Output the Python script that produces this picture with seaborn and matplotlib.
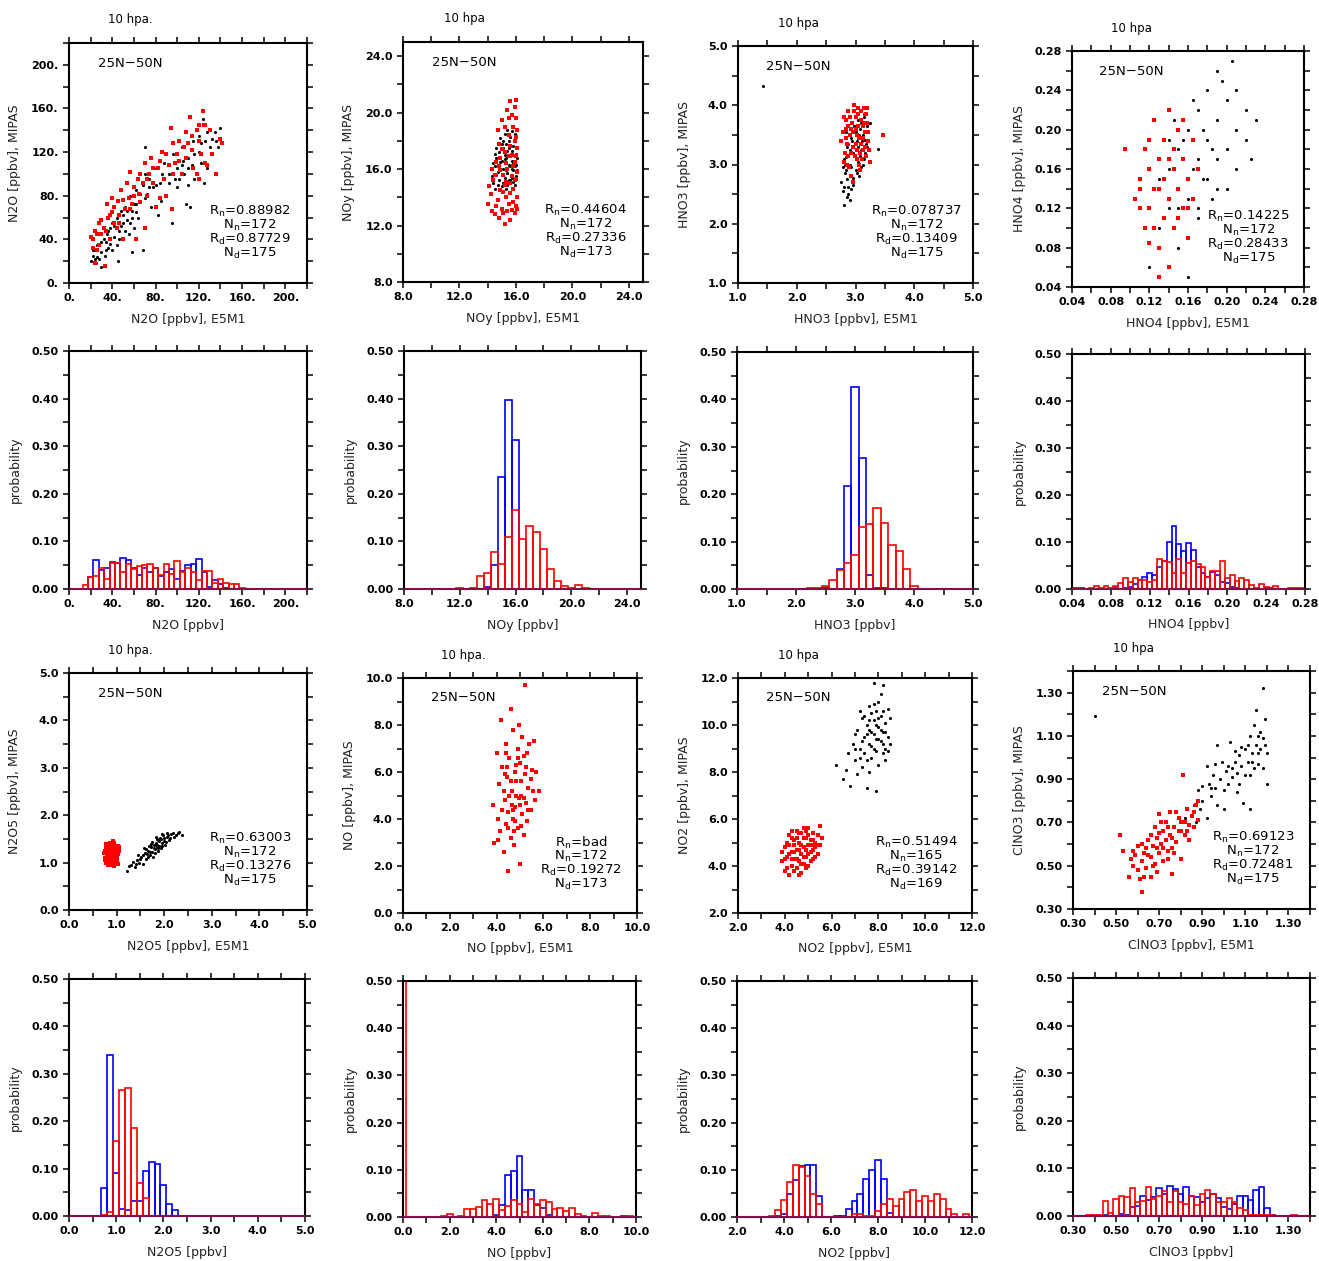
import numpy as np
import pandas as pd
import matplotlib
matplotlib.use("Agg")
import matplotlib.pyplot as plt
import seaborn as sns
from matplotlib.ticker import FuncFormatter

sns.set_theme(style="ticks")
plt.rcParams.update({
    'font.family': ['DejaVu Sans'],
    'axes.linewidth': 1.5,
    'axes.edgecolor': 'black',
    'xtick.color': 'black',
    'ytick.color': 'black',
    'text.color': 'black',
    'axes.labelcolor': '#222222',
})

# ---------------- scatter data (E5M1, MIPAS) ----------------
N2O_BLACK = [(20,20),(22,25),(24,30),(25,18),(26,35),(28,22),(30,15),(30,28),(32,40),(33,25),(35,45),(36,32),
             (38,50),(40,30),(40,55),(42,42),(44,60),(45,20),(46,48),(48,52),(50,62),(50,40),(52,70),(54,58),
             (55,45),(56,80),(58,66),(58,28),(60,72),(60,50),(62,85),(64,60),(65,75),(68,30),(68,90),(70,100),
             (70,125),(72,82),(74,95),(76,70),(78,88),(80,105),(82,62),(84,92),(85,75),(88,110),(90,80),(92,92),
             (94,68),(95,55),(96,118),(98,110),(100,105),(100,88),(102,95),(104,125),(105,112),(106,100),(108,72),
             (110,90),(110,115),(112,70),(114,108),(115,130),(116,95),(118,100),(120,120),(120,135),(122,110),
             (124,150),(125,92),(126,130),(128,105),(130,125),(135,138),(138,125),(140,142),(136,130),(24,22),
             (34,38),(44,35),(52,48),(62,65),(48,66),(38,36),(56,55),
             (22,30),(26,24),(30,38),(34,30),(36,48),(42,52),(46,40),(50,55),(54,66),(58,60),(62,72),(66,82),
             (70,78),(74,88),(80,90),(86,100),(92,100),(98,95),(104,108),(110,105),(116,118),(122,128),(128,138),
             (132,132)]
N2O_RED = [(20,42),(22,40),(24,18),(24,48),(26,30),(28,55),(28,35),(30,45),(32,50),(33,16),(35,72),(36,60),
           (38,40),(40,78),(40,65),(42,55),(44,50),(45,75),(46,62),(48,85),(50,40),(52,68),(54,92),(55,78),
           (56,102),(58,72),(60,88),(62,40),(64,95),(65,82),(66,74),(68,92),(70,50),(70,110),(72,80),(74,100),
           (76,115),(78,92),(80,70),(82,105),(84,78),(86,120),(88,95),(90,80),(92,108),(94,142),(95,68),(96,100),
           (98,110),(100,118),(102,130),(104,100),(106,125),(108,115),(110,128),(112,152),(114,135),(115,105),
           (118,140),(118,100),(120,145),(120,95),(122,118),(124,158),(125,145),(126,110),(128,108),(132,118),
           (136,100),(140,132),(141,128),
           (22,32),(26,45),(30,58),(34,48),(38,62),(42,70),(46,55),(50,76),(56,68),(60,80),(66,100),(72,95),
           (78,105),(84,112),(90,118),(96,128),(102,112),(108,138),(114,122),(120,130),(126,145),(130,140)]

NOY_BLACK = [(14.3,15.5),(14.4,15.0),(14.5,16.2),(14.5,14.6),(14.6,16.8),(14.7,15.8),(14.8,17.2),(14.8,15.2),
             (14.9,16.5),(15.0,14.8),(15.0,17.8),(15.1,16.0),(15.2,15.4),(15.2,18.5),(15.3,16.8),(15.3,14.6),
             (15.4,17.3),(15.4,15.7),(15.5,16.3),(15.5,18.0),(15.6,15.2),(15.6,17.0),(15.7,16.6),(15.7,18.7),
             (15.8,15.9),(15.8,17.6),(15.9,16.2),(15.9,14.9),(16.0,17.1),(16.0,15.5),(15.1,17.5),(14.9,18.2),
             (15.5,14.3),(15.7,15.4),(15.4,16.1),(15.6,16.9),(15.8,16.4),(15.2,16.7),(14.6,15.6),(16.1,16.8),
             (14.4,16.4),(14.6,17.5),(14.7,14.9),(14.8,16.1),(15.0,16.6),(15.0,15.6),(15.1,18.0),(15.2,17.0),
             (15.3,15.9),(15.3,17.8),(15.4,14.9),(15.5,17.5),(15.6,16.2),(15.6,18.3),(15.7,17.3),(15.8,15.1),
             (15.9,17.0),(15.9,18.5),(16.0,16.3),(16.1,15.9),(15.5,15.2),(15.7,16.0),(15.4,18.8),(14.5,17.1),
             (15.1,15.0)]
NOY_RED = [(14.0,13.5),(14.2,14.2),(14.3,13.0),(14.4,15.2),(14.5,12.8),(14.6,16.5),(14.7,13.8),(14.8,17.8),
           (14.9,14.5),(15.0,13.2),(15.0,19.5),(15.1,15.6),(15.2,12.1),(15.2,17.2),(15.3,14.0),(15.4,20.2),
           (15.4,16.0),(15.5,13.5),(15.5,18.4),(15.6,15.0),(15.6,20.8),(15.7,17.0),(15.7,13.1),(15.8,19.0),
           (15.8,14.6),(15.9,16.5),(15.9,18.0),(16.0,15.3),(16.0,20.9),(16.0,13.4),(16.1,17.5),(16.1,14.0),
           (16.0,19.6),(15.9,12.9),(15.3,16.4),(14.9,16.8),(15.6,17.6),(16.1,15.8),(15.8,16.2),(15.1,14.4),
           (16.0,18.3),(15.7,15.5),
           (14.1,14.8),(14.3,16.0),(14.5,15.6),(14.6,13.4),(14.7,18.8),(14.8,12.5),(14.9,15.9),(15.0,17.4),
           (15.1,12.9),(15.2,19.0),(15.3,15.1),(15.4,13.0),(15.5,16.9),(15.6,14.3),(15.7,19.8),(15.8,13.7),
           (15.9,15.2),(16.0,16.9),(16.1,18.8),(16.1,13.2),(15.9,20.4),(15.5,19.6),(15.2,14.9),(14.8,16.2),
           (15.6,12.4)]

HNO3_BLACK = [(2.78,2.55),(2.80,2.32),(2.85,2.45),(2.76,2.70),(2.82,2.85),(2.88,2.62),(2.90,3.00),(2.80,3.10),
              (2.95,2.78),(2.86,3.30),(2.92,3.45),(3.00,2.90),(2.98,3.15),(3.02,3.40),(2.84,3.55),(3.05,3.05),
              (3.08,3.60),(3.10,3.25),(2.94,3.70),(3.12,3.50),(3.15,3.85),(3.04,3.75),(3.18,3.35),(3.20,3.65),
              (2.96,3.20),(3.06,2.80),(2.90,2.40),(3.00,3.55),(3.14,3.10),(3.25,3.70),(3.39,3.27),(2.82,3.00),
              (3.10,2.95),(2.88,3.35),(3.02,3.65),(1.42,4.33),(2.93,2.58),(3.16,3.42),
              (2.78,2.95),(2.80,2.62),(2.84,3.12),(2.86,2.75),(2.90,3.25),(2.92,2.95),(2.94,3.40),(2.96,2.65),
              (2.98,3.55),(3.00,3.10),(3.02,2.85),(3.04,3.30),(3.06,3.50),(3.08,3.15),(3.10,3.70),(3.12,3.00),
              (3.14,3.80),(3.16,3.20),(3.18,3.55),(3.20,3.30),(2.87,2.50),(2.83,2.90),(3.05,3.85),(2.97,3.65),
              (3.11,3.40)]
HNO3_RED = [(2.76,3.40),(2.80,3.80),(2.82,3.20),(2.84,3.60),(2.86,3.00),(2.88,3.90),(2.90,3.50),(2.92,2.80),
            (2.94,3.70),(2.96,3.30),(2.98,4.00),(3.00,3.60),(3.02,3.10),(3.04,3.85),(3.06,3.45),(3.08,2.90),
            (3.10,3.75),(3.12,3.25),(3.14,3.95),(3.16,3.55),(3.18,3.15),(3.20,3.70),(3.22,3.40),(3.24,3.05),
            (3.47,3.50),(2.88,3.15),(3.00,3.35),(3.12,3.65),(2.95,2.70),(3.05,3.95),(3.18,3.85),(2.84,3.45),
            (3.02,3.50),(3.09,3.35),
            (2.78,3.55),(2.81,3.05),(2.83,3.75),(2.85,3.35),(2.87,3.65),(2.89,2.95),(2.91,3.80),(2.93,3.20),
            (2.95,3.55),(2.97,3.90),(2.99,3.15),(3.01,3.80),(3.03,3.25),(3.05,3.65),(3.07,3.20),(3.09,3.90),
            (3.11,3.10),(3.13,3.45),(3.15,3.70),(3.17,3.30),(3.19,3.95),(3.21,3.55),(3.23,3.25),(2.92,3.60),
            (3.06,3.00)]

HNO4_BLACK = [(0.12,0.06),(0.13,0.10),(0.14,0.12),(0.14,0.16),(0.15,0.14),(0.15,0.18),(0.16,0.13),(0.16,0.20),
              (0.16,0.05),(0.17,0.17),(0.17,0.22),(0.17,0.12),(0.18,0.19),(0.18,0.15),(0.18,0.24),(0.19,0.21),
              (0.19,0.17),(0.19,0.26),(0.20,0.18),(0.20,0.23),(0.20,0.14),(0.21,0.20),(0.21,0.16),(0.22,0.22),
              (0.22,0.19),(0.23,0.21),(0.155,0.19),(0.165,0.16),(0.175,0.20),(0.185,0.13),(0.145,0.21),
              (0.195,0.25),(0.205,0.27),(0.13,0.15),(0.16,0.09),(0.17,0.11),(0.15,0.08),(0.21,0.24),(0.185,0.18),
              (0.175,0.15),(0.165,0.23),(0.14,0.19),(0.225,0.17),(0.19,0.14),(0.15,0.12)]
HNO4_RED = [(0.105,0.13),(0.11,0.15),(0.115,0.18),(0.115,0.10),(0.12,0.12),(0.12,0.16),(0.125,0.14),
            (0.125,0.21),(0.13,0.08),(0.13,0.17),(0.135,0.11),(0.135,0.19),(0.14,0.13),(0.14,0.22),(0.14,0.06),
            (0.145,0.16),(0.145,0.10),(0.15,0.14),(0.15,0.20),(0.155,0.12),(0.155,0.17),(0.16,0.15),(0.16,0.09),
            (0.165,0.19),(0.165,0.13),(0.17,0.16),(0.13,0.05),(0.12,0.19),(0.11,0.12),(0.125,0.10),(0.135,0.15),
            (0.145,0.18),(0.15,0.11),(0.155,0.21),(0.14,0.17),(0.13,0.14),(0.16,0.12),(0.12,0.085),(0.095,0.18),
            (0.11,0.14)]

N2O5_BLACK = [(1.22,0.82),(1.30,0.95),(1.38,0.90),(1.42,1.05),(1.48,1.00),(1.52,1.12),(1.55,0.98),(1.60,1.20),
              (1.62,1.08),(1.66,1.25),(1.70,1.15),(1.72,1.32),(1.75,1.22),(1.78,1.38),(1.80,1.28),(1.82,1.42),
              (1.85,1.33),(1.88,1.48),(1.90,1.36),(1.92,1.52),(1.95,1.42),(1.98,1.58),(2.00,1.45),(2.05,1.55),
              (2.10,1.48),(2.15,1.60),(2.20,1.55),(2.28,1.62),(2.38,1.58),(1.68,1.35),(1.76,1.12),(1.86,1.24),
              (1.58,1.30),(1.94,1.30),(2.02,1.38),(1.45,1.15),(1.84,1.50),(1.74,1.44),(1.64,1.18),(1.35,1.02),
              (1.25,0.92),(1.40,0.98),(1.50,1.08),(1.56,1.15),(1.62,1.28),(1.66,1.12),(1.70,1.22),(1.72,1.40),
              (1.78,1.30),(1.80,1.20),(1.84,1.38),(1.88,1.30),(1.90,1.46),(1.94,1.50),(1.96,1.36),(2.00,1.52),
              (2.04,1.44),(2.08,1.58),(2.12,1.52),(2.18,1.62),(2.24,1.58),(2.32,1.65),(1.82,1.55),(1.96,1.60),
              (2.06,1.62)]
N2O5_RED = [(0.75,1.10),(0.76,1.25),(0.78,1.00),(0.78,1.35),(0.80,1.15),(0.82,1.40),(0.82,0.95),(0.84,1.20),
            (0.85,1.05),(0.86,1.30),(0.88,1.12),(0.88,1.38),(0.90,0.98),(0.90,1.22),(0.92,1.32),(0.93,1.08),
            (0.95,1.18),(0.95,1.42),(0.97,1.02),(0.98,1.28),(1.00,1.14),(1.02,1.36),(1.02,0.96),(1.05,1.24),
            (0.80,1.28),(0.86,1.00),(0.92,1.45),(0.84,1.10),(0.96,1.25),(0.89,1.17),(0.79,1.18),(1.00,1.30),
            (0.87,1.42),(0.94,0.92),(0.83,1.33),
            (0.74,1.20),(0.76,1.05),(0.77,1.40),(0.79,1.10),(0.81,1.22),(0.81,1.02),(0.83,1.28),(0.85,1.15),
            (0.85,1.38),(0.87,1.05),(0.87,1.25),(0.89,1.32),(0.91,1.12),(0.91,1.40),(0.93,1.22),(0.94,1.02),
            (0.96,1.35),(0.97,1.12),(0.99,1.22),(1.01,1.05),(1.03,1.18),(1.04,1.32),(0.78,1.30),(0.88,0.95),
            (0.95,1.28)]

NO_BLACK = []
NO_RED = [(3.85,4.6),(3.90,3.0),(4.00,6.8),(4.05,4.0),(4.10,5.5),(4.15,3.5),(4.20,8.2),(4.25,6.2),(4.30,2.6),
          (4.35,4.8),(4.40,7.2),(4.40,3.8),(4.45,5.8),(4.50,1.8),(4.50,4.3),(4.55,6.6),(4.60,8.7),(4.60,3.2),
          (4.65,5.2),(4.70,4.0),(4.70,7.8),(4.75,2.9),(4.80,6.0),(4.80,4.5),(4.85,5.6),(4.90,3.6),(4.90,7.0),
          (4.95,4.9),(5.00,2.1),(5.00,6.4),(5.05,5.0),(5.10,4.2),(5.10,7.5),(5.15,3.3),(5.20,5.9),(5.20,9.7),
          (5.25,4.7),(5.30,6.8),(5.30,3.9),(5.35,5.3),(5.40,7.2),(5.45,4.4),(5.50,6.1),(5.55,5.2),(5.60,7.3),
          (5.65,4.8),(5.70,6.0),(5.80,5.2),(4.55,5.0),(4.75,3.5),(4.85,6.3),(5.05,3.7),(4.35,5.9),(4.65,4.6),
          (4.95,8.0),(4.25,4.4),(5.15,6.7),(4.05,3.1),
          (4.30,5.2),(4.45,6.2),(4.60,5.6),(4.70,4.4),(4.85,5.0),(4.90,6.6),(5.00,4.6),(5.05,5.6),(5.25,6.2),
          (5.35,4.4),(4.50,3.6),(4.80,3.9),(5.15,4.9),(4.40,6.8),(5.45,5.7)]

NO2_BLACK = [(6.2,8.3),(6.5,7.7),(6.7,8.8),(6.8,7.4),(6.9,9.2),(7.0,8.5),(7.1,9.8),(7.1,7.9),(7.2,9.0),(7.3,10.3),
             (7.3,8.2),(7.4,9.5),(7.4,8.8),(7.5,10.0),(7.5,7.3),(7.6,9.2),(7.6,10.8),(7.7,8.6),(7.7,9.7),(7.8,11.8),
             (7.8,10.2),(7.8,9.0),(7.9,9.4),(7.9,10.6),(8.0,8.3),(8.0,9.9),(8.0,11.0),(8.1,9.3),(8.1,10.4),(8.2,8.8),
             (8.2,9.7),(8.2,11.7),(8.3,10.1),(8.3,8.5),(8.4,9.5),(8.4,10.7),(8.5,9.2),(8.5,10.3),(7.2,10.6),(7.6,8.0),
             (7.9,7.2),(8.1,11.3),(7.0,9.6),(6.6,8.1),(8.3,9.0),(7.7,10.5),
             (7.0,9.0),(7.2,8.6),(7.3,9.3),(7.4,10.4),(7.5,8.5),(7.6,9.8),(7.7,9.1),(7.8,9.6),(7.9,8.9),(8.0,10.3),
             (8.0,9.4),(8.1,9.8),(8.2,10.6),(8.3,9.7),(8.4,8.9),(7.8,10.9),(7.5,9.6),(7.9,10.0),(8.2,9.2),(7.6,10.2)]
NO2_RED = [(3.9,4.2),(4.0,4.8),(4.0,3.8),(4.1,5.0),(4.1,4.4),(4.2,3.6),(4.2,5.3),(4.3,4.6),(4.3,4.0),(4.4,5.1),
           (4.4,4.3),(4.5,3.9),(4.5,5.5),(4.5,4.7),(4.6,4.2),(4.6,5.0),(4.7,4.5),(4.7,3.7),(4.7,5.4),(4.8,4.8),
           (4.8,4.1),(4.9,5.2),(4.9,4.4),(5.0,4.9),(5.0,4.0),(5.0,5.6),(5.1,4.6),(5.1,5.1),(5.2,4.3),(5.2,5.4),
           (5.3,4.8),(5.3,5.0),(5.4,4.5),(5.4,5.3),(5.5,4.9),(5.6,5.2),(4.3,5.2),(4.6,3.6),(4.9,3.9),(4.4,4.9),
           (4.8,5.6),(5.2,4.7),(4.2,4.5),(5.5,5.7),
           (3.9,4.6),(4.0,4.3),(4.1,3.9),(4.2,4.9),(4.3,5.5),(4.3,4.3),(4.4,3.8),(4.4,4.6),(4.5,5.2),(4.5,4.3),
           (4.6,4.7),(4.6,5.4),(4.7,4.1),(4.7,4.9),(4.8,4.4),(4.8,5.2),(4.9,4.7),(4.9,5.5),(5.0,4.5),(5.0,5.3),
           (5.1,4.2),(5.1,4.9),(5.2,5.1),(5.3,4.4),(5.4,4.9)]

CLNO3_BLACK = [(0.82,0.72),(0.84,0.62),(0.86,0.78),(0.87,0.70),(0.88,0.85),(0.89,0.76),(0.90,0.80),(0.92,0.96),
               (0.92,0.72),(0.93,0.88),(0.94,0.82),(0.95,0.92),(0.96,0.86),(0.97,1.06),(0.97,0.78),(0.98,0.90),
               (1.00,0.85),(1.00,0.76),(1.01,0.94),(1.02,0.88),(1.03,1.07),(1.04,0.91),(1.05,0.98),(1.06,0.84),
               (1.06,0.93),(1.07,1.01),(1.08,0.96),(1.09,0.79),(1.10,1.04),(1.10,0.92),(1.11,0.98),(1.12,1.10),
               (1.13,1.02),(1.14,0.95),(1.14,1.15),(1.15,1.06),(1.15,1.22),(1.16,0.97),(1.17,1.04),(1.17,1.12),
               (1.18,0.95),(1.18,1.32),(1.19,1.06),(1.19,1.18),(1.20,0.88),(1.20,1.02),(1.12,0.76),(0.40,1.19),
               (0.90,0.87),(0.94,0.86),(0.99,0.98),(1.02,0.96),(1.05,1.03),(1.08,1.05),(1.11,1.06),(1.13,0.98),
               (1.16,1.02),(1.18,1.09),(1.12,0.92),(1.07,0.88),(0.96,0.97),(1.04,0.95),(1.16,1.10)]
CLNO3_RED = [(0.52,0.64),(0.53,0.57),(0.56,0.45),(0.57,0.53),(0.58,0.50),(0.60,0.59),(0.61,0.44),(0.62,0.52),
             (0.62,0.38),(0.63,0.56),(0.64,0.49),(0.65,0.62),(0.66,0.54),(0.66,0.45),(0.67,0.59),(0.68,0.68),
             (0.68,0.51),(0.69,0.63),(0.70,0.56),(0.70,0.74),(0.71,0.60),(0.72,0.66),(0.72,0.52),(0.73,0.70),
             (0.74,0.57),(0.75,0.64),(0.75,0.75),(0.76,0.46),(0.77,0.68),(0.78,0.61),(0.79,0.72),(0.80,0.66),
             (0.80,0.53),(0.81,0.92),(0.82,0.70),(0.83,0.76),(0.84,0.62),(0.85,0.73),(0.86,0.68),(0.87,0.78),
             (0.88,0.71),(0.64,0.58),(0.69,0.47),(0.74,0.53),(0.78,0.75),(0.59,0.55),(0.71,0.70),(0.76,0.58),
             (0.83,0.66),
             (0.58,0.57),(0.60,0.48),(0.62,0.60),(0.63,0.45),(0.65,0.55),(0.66,0.64),(0.67,0.50),(0.69,0.58),
             (0.70,0.65),(0.72,0.58),(0.73,0.62),(0.74,0.68),(0.76,0.63),(0.77,0.56),(0.79,0.66),(0.80,0.70),
             (0.82,0.64),(0.84,0.69),(0.86,0.75),(0.88,0.80)]

# ---------------- histogram data (bin centres, probability) ----------------
N2O_BINS = [15,20,25,30,35,40,45,50,55,60,65,70,75,80,85,90,95,100,105,110,115,120,125,130,135,140,145,150,155,160]
N2O_BLUE = [0,0.025,0.06,0.04,0.045,0.057,0.055,0.066,0.06,0.045,0.03,0.045,0.035,0.045,0.028,0.035,0.043,0.02,
            0.037,0.05,0.052,0.063,0.035,0.005,0.018,0.01,0.002,0,0,0]
N2O_RED_H = [0.008,0.025,0.028,0.045,0.02,0.055,0.055,0.035,0.052,0.043,0.048,0.05,0.052,0.045,0.03,0.052,0.032,
             0.058,0.035,0.045,0.035,0.018,0.038,0.038,0.012,0.022,0.012,0.01,0.01,0.003]

NOY_BINS = [12,12.5,13,13.5,14,14.5,15,15.5,16,16.5,17,17.5,18,18.5,19,19.5,20,20.5,21]
NOY_BLUE = [0,0,0,0,0.005,0.05,0.235,0.398,0.313,0,0,0,0,0,0,0,0,0,0]
NOY_RED_H = [0.003,0,0.003,0.028,0.034,0.078,0.052,0.11,0.165,0.104,0.133,0.12,0.084,0.043,0.017,0.006,0.003,
             0.009,0.003]

HNO3_BINS = [2.25,2.375,2.5,2.625,2.75,2.875,3.0,3.125,3.25,3.375,3.5,3.625,3.75,3.875,4.0]
HNO3_BLUE = [0,0,0.002,0,0.042,0.218,0.427,0.277,0.03,0.003,0.002,0,0,0,0]
HNO3_RED_H = [0.003,0.003,0.006,0.02,0.04,0.054,0.072,0.13,0.138,0.17,0.14,0.092,0.081,0.043,0.006]

HNO4_BINS = [0.040,0.045,0.050,0.055,0.060,0.065,0.070,0.075,0.080,0.085,0.090,0.095,0.100,0.105,0.110,0.115,
             0.120,0.125,0.130,0.135,0.140,0.145,0.150,0.155,0.160,0.165,0.170,0.175,0.180,0.185,0.190,0.195,
             0.200,0.205,0.210,0.215,0.220,0.225,0.230,0.235,0.240,0.245,0.250,0.255,0.260,0.265,0.270,0.275]
HNO4_BLUE = [0,0.003,0.003,0,0,0,0,0,0,0.002,0,0.003,0.005,0.01,0.02,0.025,0.033,0.03,0.047,0.06,0.1,0.135,0.096,
             0.08,0.098,0.083,0.047,0.034,0.026,0.036,0.03,0.015,0.012,0.004,0.003,0,0,0,0,0,0.002,0.002,0,0,0,
             0,0,0]
HNO4_RED_H = [0.003,0.003,0.003,0,0.003,0.006,0.003,0.006,0.003,0.006,0.012,0.023,0.015,0.023,0.02,0.02,0.015,
              0.02,0.063,0.06,0.058,0.035,0.063,0.035,0.055,0.06,0.053,0.046,0.025,0.038,0.038,0.06,0.024,0.03,
              0.018,0.023,0.02,0.008,0.003,0.01,0.005,0.003,0.006,0,0,0.003,0.003,0.003]

N2O5_BINS = [0.625,0.75,0.875,1.0,1.125,1.25,1.375,1.5,1.625,1.75,1.875,2.0,2.125,2.25]
N2O5_BLUE = [0,0.06,0.34,0.09,0.015,0.012,0.032,0.032,0.095,0.113,0.11,0.066,0.026,0.012]
N2O5_RED_H = [0,0.003,0.009,0.158,0.265,0.27,0.186,0.069,0.037,0,0,0,0,0]

NO_BINS = [0.0,0.25,0.5,0.75,1.0,1.25,1.5,1.75,2.0,2.25,2.5,2.75,3.0,3.25,3.5,3.75,4.0,4.25,4.5,4.75,5.0,5.25,
           5.5,5.75,6.0,6.25,6.5,6.75,7.0,7.25,7.5,7.75,8.0,8.25,8.5,8.75,9.0,9.25,9.5,9.75]
NO_BLUE = [0,0,0,0,0,0,0,0,0,0,0,0,0,0,0,0,0.005,0.025,0.088,0.097,0.13,0.058,0.058,0.025,0.02,0.005,0,0,0,0,0,
           0,0,0,0,0,0,0,0.003,0]
NO_RED_H = [0.55,0,0,0,0,0,0,0.003,0.007,0,0.003,0.018,0.018,0.022,0.035,0.027,0.038,0.015,0.024,0.036,0.027,
            0.01,0.038,0.027,0.035,0.032,0.018,0.02,0.012,0.02,0.006,0.003,0,0.009,0.003,0.003,0,0,0.003,0.003]

NO2_BINS = [3.5,3.75,4.0,4.25,4.5,4.75,5.0,5.25,5.5,5.75,6.0,6.25,6.5,6.75,7.0,7.25,7.5,7.75,8.0,8.25,8.5,8.75,
            9.0,9.25,9.5,9.75,10.0,10.25,10.5,10.75,11.0,11.25,11.5,11.75]
NO2_BLUE = [0,0.002,0.006,0.048,0.078,0.108,0.111,0.111,0.045,0,0,0.003,0.003,0.018,0.033,0.048,0.081,0.099,0.12,
            0.081,0.009,0,0,0,0,0,0,0,0,0,0,0,0,0]
NO2_RED_H = [0.003,0.015,0.036,0.075,0.111,0.105,0.087,0.048,0.027,0,0,0,0,0,0.006,0.006,0.003,0.003,0.012,0.027,
             0.039,0.024,0.039,0.054,0.057,0.033,0.045,0.033,0.048,0.039,0.018,0.006,0,0.006]

CLNO3_BINS = [0.375,0.400,0.425,0.450,0.475,0.500,0.525,0.550,0.575,0.600,0.625,0.650,0.675,0.700,0.725,0.750,
              0.775,0.800,0.825,0.850,0.875,0.900,0.925,0.950,0.975,1.000,1.025,1.050,1.075,1.100,1.125,1.150,
              1.175,1.200,1.225,1.250,1.275,1.300,1.325]
CLNO3_BLUE = [0,0,0,0.003,0,0,0.005,0.003,0.018,0.02,0.043,0.033,0.04,0.058,0.047,0.063,0.056,0.046,0.06,0.041,
              0.04,0.03,0.038,0.046,0.037,0.018,0.015,0.026,0.043,0.043,0.034,0.055,0.06,0.017,0.003,0,0,0,0.001]
CLNO3_RED_H = [0.003,0.003,0.003,0.032,0.006,0.035,0.043,0.04,0.058,0.029,0.032,0.06,0.035,0.043,0.052,0.03,
               0.052,0.029,0.026,0.043,0.024,0.046,0.054,0.046,0.029,0.03,0.037,0.03,0.017,0.012,0.003,0.003,
               0.003,0.003,0.002,0,0,0,0.003]

# ---------------- panel settings ----------------
W, H = 1319, 1261
SPECIES = [
    # name, (lo, hi), major step, fmt, bin width, stats, black, red, hist centres, blue, red
    ("N2O", (0, 220), 40, "{:.0f}.", 5, ("0.88982", "172", "0.87729", "175"),
     N2O_BLACK, N2O_RED, N2O_BINS, N2O_BLUE, N2O_RED_H),
    ("NOy", (8, 25), 4, "{:.1f}", 0.5, ("0.44604", "172", "0.27336", "173"),
     NOY_BLACK, NOY_RED, NOY_BINS, NOY_BLUE, NOY_RED_H),
    ("HNO3", (1, 5), 1, "{:.1f}", 0.125, ("0.078737", "172", "0.13409", "175"),
     HNO3_BLACK, HNO3_RED, HNO3_BINS, HNO3_BLUE, HNO3_RED_H),
    ("HNO4", (0.04, 0.28), 0.04, "{:.2f}", 0.005, ("0.14225", "172", "0.28433", "175"),
     HNO4_BLACK, HNO4_RED, HNO4_BINS, HNO4_BLUE, HNO4_RED_H),
    ("N2O5", (0, 5), 1, "{:.1f}", 0.125, ("0.63003", "172", "0.13276", "175"),
     N2O5_BLACK, N2O5_RED, N2O5_BINS, N2O5_BLUE, N2O5_RED_H),
    ("NO", (0, 10), 2, "{:.1f}", 0.25, ("bad", "172", "0.19272", "173"),
     NO_BLACK, NO_RED, NO_BINS, NO_BLUE, NO_RED_H),
    ("NO2", (2, 12), 2, "{:.1f}", 0.25, ("0.51494", "165", "0.39142", "169"),
     NO2_BLACK, NO2_RED, NO2_BINS, NO2_BLUE, NO2_RED_H),
    ("ClNO3", (0.3, 1.4), 0.2, "{:.2f}", 0.025, ("0.69123", "172", "0.72481", "175"),
     CLNO3_BLACK, CLNO3_RED, CLNO3_BINS, CLNO3_BLUE, CLNO3_RED_H),
]
TITLES = ["10 hpa.", "10 hpa", "10 hpa", "10 hpa", "10 hpa.", "10 hpa.", "10 hpa", "10 hpa"]

# axes boxes in pixels (left, top, right, bottom)
SCATTER_BOX = [(69, 43, 307, 283), (403, 42, 643, 282), (738, 46, 973, 283), (1072, 51, 1304, 287),
               (69, 673, 307, 910), (403, 678, 637, 913), (738, 678, 972, 913), (1073, 671, 1310, 909)]
HIST_BOX = [(69, 351, 307, 589), (404, 351, 641, 589), (737, 352, 973, 589), (1072, 354, 1305, 589),
            (69, 979, 305, 1216), (403, 981, 636, 1217), (737, 981, 972, 1217), (1073, 978, 1310, 1216)]


def make_axes(fig, box):
    l, t, r, b = box
    return fig.add_axes([l / W, 1 - b / H, (r - l) / W, (b - t) / H])


def style_axes(ax, xlim, xstep, xfmt, ylim, ystep, yfmt):
    ax.set_xlim(*xlim)
    ax.set_ylim(*ylim)
    ax.set_xticks(np.arange(xlim[0], xlim[1] + 1e-9, xstep))
    ax.set_xticks(np.arange(xlim[0], xlim[1] + 1e-9, xstep / 2), minor=True)
    ax.set_yticks(np.arange(ylim[0], ylim[1] + 1e-9, ystep))
    ax.set_yticks(np.arange(ylim[0], ylim[1] + 1e-9, ystep / 2), minor=True)
    ax.xaxis.set_major_formatter(FuncFormatter(lambda v, p: xfmt.format(v)))
    ax.yaxis.set_major_formatter(FuncFormatter(lambda v, p: yfmt.format(v)))
    ax.tick_params(which="both", direction="out", top=True, right=True, length=4.5, width=1.1,
                   labelsize=8, pad=3)
    for s in ax.spines.values():
        s.set_linewidth(1.5)
        s.set_color("black")
    plt.setp(ax.get_xticklabels() + ax.get_yticklabels(), fontweight="bold")
    ax.xaxis.set_label_coords(0.5, -0.125)
    ax.yaxis.set_label_coords(-0.2, 0.5)


fig = plt.figure(figsize=(W / 100, H / 100), dpi=100)

for i, (name, lim, step, fmt, bw, stats, black, red, centres, blue_h, red_h) in enumerate(SPECIES):
    # scatter panel
    ax = make_axes(fig, SCATTER_BOX[i])
    if black:
        bx, by = zip(*black)
        sns.scatterplot(x=list(bx), y=list(by), color="black", marker="o", s=5, linewidth=0, ax=ax)
    rx, ry = zip(*red)
    sns.scatterplot(x=list(rx), y=list(ry), color="red", marker="s", s=6, linewidth=0, ax=ax)
    style_axes(ax, lim, step, fmt, lim, step, fmt)
    ax.set_xlabel(f"{name} [ppbv], E5M1", fontsize=9)
    ax.set_ylabel(f"{name} [ppbv], MIPAS", fontsize=9)
    ax.text(0.257, 1.096, TITLES[i], transform=ax.transAxes, ha="center", va="center", fontsize=8.5)
    ax.text(0.257, 0.915, "25N\u221250N", transform=ax.transAxes, ha="center", va="center", fontsize=9.5)
    lines = [r"R$_\mathregular{n}$=" + stats[0], r"N$_\mathregular{n}$=" + stats[1],
             r"R$_\mathregular{d}$=" + stats[2], r"N$_\mathregular{d}$=" + stats[3]]
    for k, txt in enumerate(lines):
        ax.text(0.76, 0.30 - k * 0.059, txt, transform=ax.transAxes, ha="center", va="center", fontsize=9.5)

    # histogram panel
    ax = make_axes(fig, HIST_BOX[i])
    first = centres[0] - bw / 2
    first -= bw * np.ceil((first - lim[0]) / bw)
    edges = [float(e) for e in np.arange(first, lim[1] + bw, bw)]
    hist_df = pd.DataFrame({"value": centres, "blue": blue_h, "red": red_h})
    sns.histplot(data=hist_df, x="value", weights="blue", bins=edges, stat="count", element="bars",
                 fill=False, color="blue", linewidth=1.2, ax=ax)
    sns.histplot(data=hist_df, x="value", weights="red", bins=edges, stat="count", element="bars",
                 fill=False, color="red", linewidth=1.2, ax=ax)
    # coloured zero line along the base, as in the original
    ax.axhline(0, color="#a0105a", linewidth=1.2, zorder=3, clip_on=False)
    style_axes(ax, lim, step, fmt, (0, 0.5), 0.1, "{:.2f}")
    ax.set_xlabel(f"{name} [ppbv]", fontsize=9)
    ax.set_ylabel("probability", fontsize=9)

fig.savefig("out.png", dpi=100)
